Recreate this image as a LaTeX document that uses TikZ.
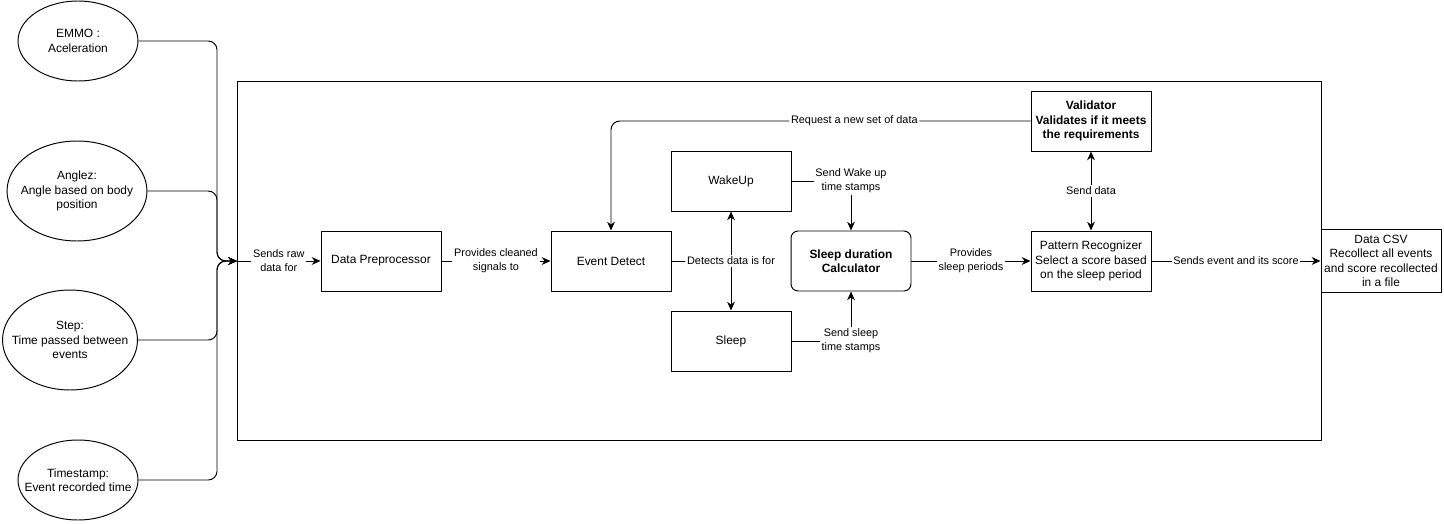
\documentclass[tikz,border=0pt]{standalone}
\usepackage{fontspec}
\setmainfont{Liberation Sans}
\usetikzlibrary{shapes.geometric, arrows.meta}

\newcommand{\boxfont}{\fontsize{6.8}{8.2}\selectfont}
\newcommand{\lblfont}{\fontsize{6.2}{7.9}\selectfont}

\tikzset{
    block/.style={draw, rectangle, minimum width=2.4cm, minimum height=1.2cm, inner xsep=1.5pt, align=center, font=\boxfont, fill=white},
    calcbox/.style={block, rounded corners=4pt, font=\boxfont\bfseries},
    source/.style={draw, ellipse, inner xsep=-12pt, inner ysep=0pt, align=center, font=\boxfont},
    lbl/.style={fill=white, inner sep=1pt, align=center, font=\lblfont},
    flow/.style={->, >={Stealth[length=5pt, width=4.4pt]}}
}

\begin{document}
\begin{tikzpicture}[x=0.02cm, y=-0.02cm, line width=0.55pt]

    \useasboundingbox (0,0) rectangle (1444,524);

    % System frame
    \draw (237,81) rectangle (1321,440);
    \coordinate (in) at (237,261);
    \coordinate (merge) at (217,261);

    % Input signals
    \node[source, minimum width=2.4cm, minimum height=1.6cm] (emmo) at (78,41) {EMMO :\\Aceleration};
    \node[source, minimum width=2.8cm, minimum height=2cm] (anglez) at (77,191) {Anglez:\\Angle based on body\\position};
    \node[source, minimum width=2.7cm, minimum height=2cm] (stepin) at (70,340) {Step:\\Time passed between\\events};
    \node[source, minimum width=2.4cm, minimum height=1.6cm] (stamp) at (78,480) {Timestamp:\\Event recorded time};

    \draw[flow, rounded corners=5pt] (emmo.east) -| (merge) -- (in);
    \draw[flow, rounded corners=5pt] (anglez.east) -| (merge) -- (in);
    \draw[flow, rounded corners=5pt] (stepin.east) -| (merge) -- (in);
    \draw[flow, rounded corners=5pt] (stamp.east) -| (merge) -- (in);

    % Processing blocks
    \node[block] (prep) at (381,261) {Data Preprocessor};
    \node[block] (event) at (611,261) {Event Detect};
    \node[block] (wakeup) at (731,181) {WakeUp};
    \node[block] (sleep) at (731,341) {Sleep};
    \node[calcbox] (calc) at (851,261) {Sleep duration\\Calculator};
    \node[block] (pattern) at (1091,261) {Pattern Recognizer\\Select a score based\\on the sleep period};
    \node[block, font=\boxfont\bfseries] (valid) at (1091,121) {Validator\\Validates if it meets\\the requirements};
    \node[block] (csv) at (1381,261) {Data CSV\\Recollect all events\\and score recollected\\in a file};

    % Data flow
    \draw[flow] (in) -- node[lbl] {Sends raw\\data for} (prep.west);
    \draw[flow] (prep) -- node[lbl] {Provides cleaned\\signals to} (event);
    \draw[flow] (event.east) -| (wakeup.south);
    \draw[flow] (event.east) -| node[lbl] {Detects data is for} (sleep.north);
    \draw[flow] (wakeup.east) -| node[lbl] {Send Wake up\\time stamps} (calc.north);
    \draw[flow] (sleep.east) -| node[lbl] {Send sleep\\time stamps} (calc.south);
    \draw[flow] (calc) -- node[lbl] {Provides\\sleep periods} (pattern);
    \draw[flow, <->] (pattern) -- node[lbl] {Send data} (valid);
    \draw[flow] (pattern) -- node[lbl] {Sends event and its score} (csv);

    % Feedback loop
    \draw[flow, rounded corners=5pt] (valid.west) -| node[lbl, pos=0.21] {Request a new set of data} (event.north);

\end{tikzpicture}
\end{document}
